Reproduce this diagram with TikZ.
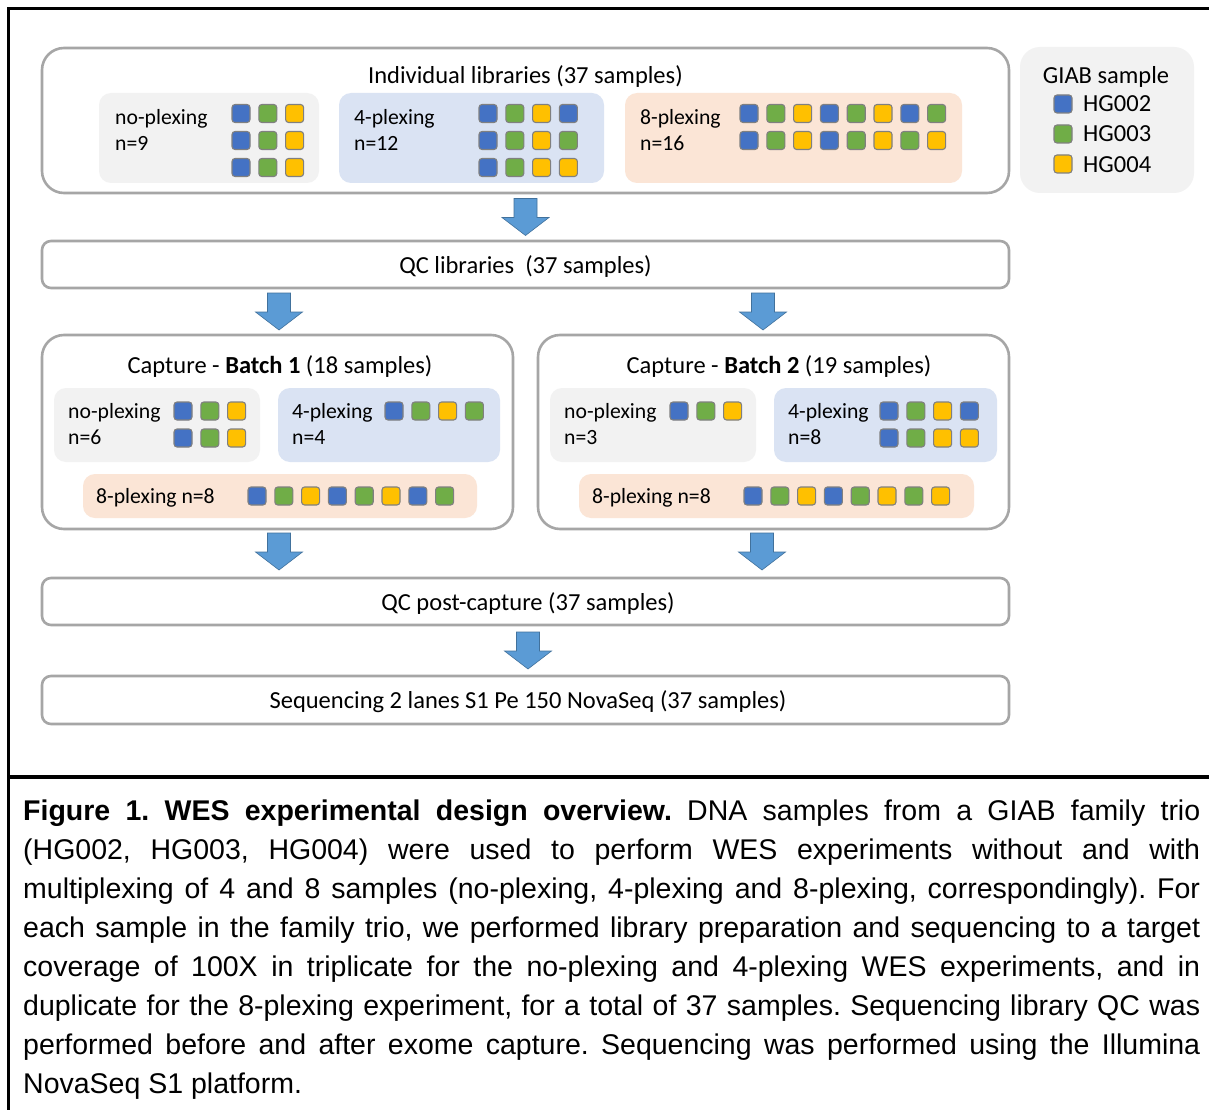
\documentclass[tikz,border=0pt]{standalone}
\usepackage{fontspec}
\setmainfont{Carlito}
\newfontfamily\capfont{Liberation Sans}
\usetikzlibrary{calc}
\definecolor{boxgray}{HTML}{A6A6A6}
\definecolor{lgray}{HTML}{F2F2F2}
\definecolor{lblue}{HTML}{DAE3F3}
\definecolor{peach}{HTML}{FBE5D6}
\definecolor{sB}{HTML}{4472C4}
\definecolor{sG}{HTML}{70AD47}
\definecolor{sY}{HTML}{FFC000}
\definecolor{sqedge}{HTML}{808080}
\definecolor{arrfill}{HTML}{5B9BD5}
\definecolor{arredge}{HTML}{41719C}
\newcommand\dfont{\fontsize{24.5}{26}\selectfont}
\newcommand\sfont{\fontsize{21.7}{26}\selectfont}
\newcommand\sqrow[4]{%
  \foreach \c [count=\i from 0] in {#4} {\node[sqbox, fill=\c] (#1-\i) at ({#2+26.8*\i},#3) {};}}
\tikzset{
  bigbox/.style={draw=boxgray, line width=2.6pt, rounded corners=22pt, fill=white, inner sep=0},
  flatbox/.style={draw=boxgray, line width=2.6pt, rounded corners=9pt, fill=white, inner sep=0, minimum width=967pt},
  subbox/.style={draw=none, rounded corners=12pt, inner sep=0},
  sqbox/.style={draw=sqedge, line width=1.1pt, rounded corners=3pt, minimum size=18pt, inner sep=0},
  txt/.style={font=\dfont, inner sep=0, text=black},
  stxt/.style={font=\sfont, inner sep=0, text=black, anchor=base west},
  blockarrow/.pic={\draw[fill=arrfill, draw=arredge, line width=0.6pt, line join=miter]
     (-11.5,-18.5) -- (11.5,-18.5) -- (11.5,0.5) -- (23.5,0.5) -- (0,18.5) -- (-23.5,0.5) -- (-11.5,0.5) -- cycle;},
}
\begin{document}
\begin{tikzpicture}[x=1pt,y=-1pt]
\useasboundingbox (0,0) rectangle (1209,1110);
\fill[white] (0,0) rectangle (1209,1110);
% frame
\draw[line width=3pt] (8,1110) -- (8,9) -- (1209,9);
\draw[line width=3.5pt] (8,777) -- (1209,777);

% Individual libraries
\node[bigbox, minimum width=967pt, minimum height=145pt] (lib) at (525.5,120.5) {};
\node[txt, anchor=base] (libt) at (525.5,84) {Individual libraries (37 samples)};
\node[subbox, fill=lgray, minimum width=220pt, minimum height=90pt] (np) at (209,138) {};
\node[subbox, fill=lblue, minimum width=265pt, minimum height=90pt] (p4) at (471.5,138) {};
\node[subbox, fill=peach, minimum width=337pt, minimum height=90pt] (p8) at (793.5,138) {};
\node[stxt] (npa) at (115,125) {no-plexing};
\node[stxt] (npb) at (115,151) {n=9};
\node[stxt] (p4a) at (354,125) {4-plexing};
\node[stxt] (p4b) at (354,151) {n=12};
\node[stxt] (p8a) at (640,125) {8-plexing};
\node[stxt] (p8b) at (640,151) {n=16};
\sqrow{np1}{241}{113.5}{sB,sG,sY}
\sqrow{np2}{241}{140.5}{sB,sG,sY}
\sqrow{np3}{241}{167.5}{sB,sG,sY}
\sqrow{pa1}{488}{113.5}{sB,sG,sY,sB}
\sqrow{pa2}{488}{140.5}{sB,sG,sY,sG}
\sqrow{pa3}{488}{167.5}{sB,sG,sY,sY}
\sqrow{pb1}{749}{113.5}{sB,sG,sY,sB,sG,sY,sB,sG}
\sqrow{pb2}{749}{140.5}{sB,sG,sY,sB,sG,sY,sG,sY}

% legend
\node[subbox, fill=lgray, rounded corners=20pt, minimum width=174pt, minimum height=146pt] (giab) at (1107,120) {};
\node[txt, anchor=base] (giabt) at (1106,84) {GIAB sample};
\node[sqbox, fill=sB] (l2) at (1063,104) {};
\node[sqbox, fill=sG] (l3) at (1063,134) {};
\node[sqbox, fill=sY] (l4) at (1063,164) {};
\node[txt, anchor=base west] (l2t) at (1083,112) {HG002};
\node[txt, anchor=base west] (l3t) at (1083,142) {HG003};
\node[txt, anchor=base west] (l4t) at (1083,172) {HG004};

% QC libraries
\node[flatbox, minimum height=47pt] (qc) at (525.5,264.5) {};
\node[txt, anchor=base] (qct) at (525.5,273) {QC libraries\ \ (37 samples)};

% Batch 1
\node[bigbox, minimum width=471pt, minimum height=194pt] (b1) at (277.5,432) {};
\node[txt, anchor=base] (b1t) at (280,373) {Capture - \textbf{Batch 1} (18 samples)};
\node[subbox, fill=lgray, minimum width=206pt, minimum height=74pt] (b1np) at (157,425) {};
\node[subbox, fill=lblue, minimum width=222pt, minimum height=74pt] (b1p4) at (389,425) {};
\node[subbox, fill=peach, minimum width=394pt, minimum height=44pt] (b1p8) at (280,496) {};
\node[stxt] (b1npa) at (68,418) {no-plexing};
\node[stxt] (b1npb) at (68,444) {n=6};
\node[stxt] (b1p4a) at (292,418) {4-plexing};
\node[stxt] (b1p4b) at (292,444) {n=4};
\node[stxt] (b1p8a) at (96,503) {8-plexing n=8};
\sqrow{b1n1}{183}{411}{sB,sG,sY}
\sqrow{b1n2}{183}{438}{sB,sG,sY}
\sqrow{b1f1}{394}{411}{sB,sG,sY,sG}
\sqrow{b1e1}{257}{496}{sB,sG,sY,sB,sG,sY,sB,sG}

% Batch 2
\node[bigbox, minimum width=471pt, minimum height=194pt] (b2) at (773.5,432) {};
\node[txt, anchor=base] (b2t) at (779,373) {Capture - \textbf{Batch 2} (19 samples)};
\node[subbox, fill=lgray, minimum width=206pt, minimum height=74pt] (b2np) at (653,425) {};
\node[subbox, fill=lblue, minimum width=223pt, minimum height=74pt] (b2p4) at (885.5,425) {};
\node[subbox, fill=peach, minimum width=395pt, minimum height=44pt] (b2p8) at (776.5,496) {};
\node[stxt] (b2npa) at (564,418) {no-plexing};
\node[stxt] (b2npb) at (564,444) {n=3};
\node[stxt] (b2p4a) at (788,418) {4-plexing};
\node[stxt] (b2p4b) at (788,444) {n=8};
\node[stxt] (b2p8a) at (592,503) {8-plexing n=8};
\sqrow{b2n1}{679}{411}{sB,sG,sY}
\sqrow{b2f1}{889}{411}{sB,sG,sY,sB}
\sqrow{b2f2}{889}{438}{sB,sG,sY,sY}
\sqrow{b2e1}{753}{496}{sB,sG,sY,sB,sG,sY,sG,sY}

% QC post-capture and sequencing
\node[flatbox, minimum height=47pt] (qcp) at (525.5,601.5) {};
\node[txt, anchor=base] (qcpt) at (528,610) {QC post-capture (37 samples)};
\node[flatbox, minimum height=48pt] (seq) at (525.5,700) {};
\node[txt, anchor=base] (seqt) at (528,708) {Sequencing 2 lanes S1 Pe 150 NovaSeq (37 samples)};

% block arrows
\coordinate (a1) at ($(lib.south)!0.5!(qc.north)$);
\coordinate (a2) at ($(qc.south -| b1.north)!0.5!(b1.north)$);
\coordinate (a3) at ($(qc.south -| b2.north)!0.5!(b2.north)$);
\coordinate (a4) at ($(b1.south)!0.5!(qcp.north -| b1.south)$);
\coordinate (a5) at ($(b2.south)!0.5!(qcp.north -| b2.south)$);
\coordinate (a6) at ($(qcp.south)!0.5!(seq.north)$);
\pic at (a1) {blockarrow};
\pic at ([xshift=1.5pt]a2) {blockarrow};
\pic at ([xshift=-10.5pt]a3) {blockarrow};
\pic at ([xshift=1.5pt,yshift=2pt]a4) {blockarrow};
\pic at ([xshift=-11.5pt,yshift=2pt]a5) {blockarrow};
\pic at ([xshift=2.5pt]a6) {blockarrow};

% caption
\node[anchor=base west, inner sep=0, font=\capfont\fontsize{28.5}{39}\selectfont] (cap) at (23,820) {\parbox[t]{1177pt}{\frenchspacing\baselineskip=39pt
\hbox to\hsize{\textbf{Figure 1. WES experimental design overview.} DNA samples from a GIAB family trio}
\hbox to\hsize{(HG002, HG003, HG004) were used to perform WES experiments without and with}
\hbox to\hsize{multiplexing of 4 and 8 samples (no-plexing, 4-plexing and 8-plexing, correspondingly). For}
\hbox to\hsize{each sample in the family trio, we performed library preparation and sequencing to a target}
\hbox to\hsize{coverage of 100X in triplicate for the no-plexing and 4-plexing WES experiments, and in}
\hbox to\hsize{duplicate for the 8-plexing experiment, for a total of 37 samples. Sequencing library QC was}
\hbox to\hsize{performed before and after exome capture. Sequencing was performed using the Illumina}
\hbox{NovaSeq S1 platform.}}};
\end{tikzpicture}
\end{document}
